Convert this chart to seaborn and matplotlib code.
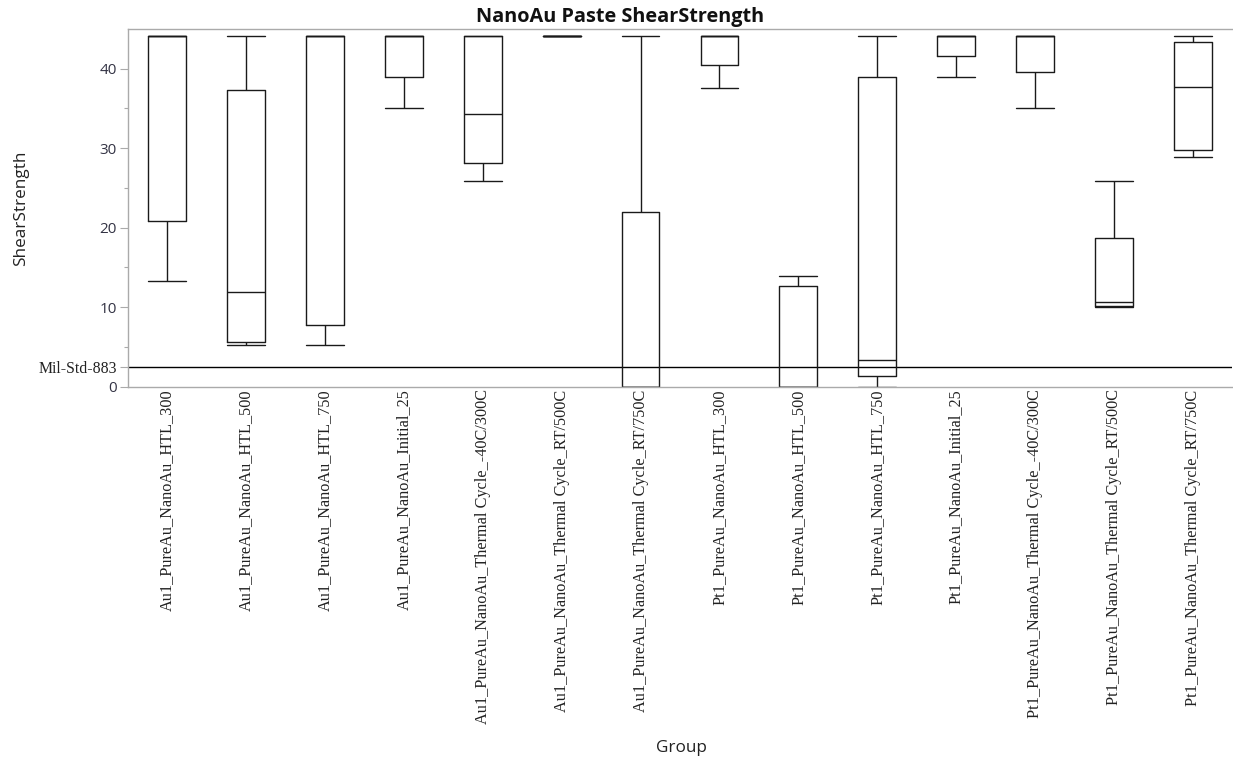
import matplotlib
matplotlib.use("Agg")
import matplotlib.pyplot as plt
import seaborn as sns
import pandas as pd

groups = [
    "Au1_PureAu_NanoAu_HTL_300",
    "Au1_PureAu_NanoAu_HTL_500",
    "Au1_PureAu_NanoAu_HTL_750",
    "Au1_PureAu_NanoAu_Initial_25",
    "Au1_PureAu_NanoAu_Thermal Cycle_-40C/300C",
    "Au1_PureAu_NanoAu_Thermal Cycle_RT/500C",
    "Au1_PureAu_NanoAu_Thermal Cycle_RT/750C",
    "Pt1_PureAu_NanoAu_HTL_300",
    "Pt1_PureAu_NanoAu_HTL_500",
    "Pt1_PureAu_NanoAu_HTL_750",
    "Pt1_PureAu_NanoAu_Initial_25",
    "Pt1_PureAu_NanoAu_Thermal Cycle_-40C/300C",
    "Pt1_PureAu_NanoAu_Thermal Cycle_RT/500C",
    "Pt1_PureAu_NanoAu_Thermal Cycle_RT/750C",
]

# Shear strength readings per group (min, lower quartile, median, upper quartile, max)
au1_htl_300 = [13.3, 20.9, 44.1, 44.1, 44.1]
au1_htl_500 = [5.3, 5.6, 11.9, 37.3, 44.1]
au1_htl_750 = [5.3, 7.8, 44.1, 44.1, 44.1]
au1_initial_25 = [35.1, 39.0, 44.1, 44.1, 44.1]
au1_tc_m40_300 = [25.9, 28.1, 34.3, 44.1, 44.1]
au1_tc_rt_500 = [44.1, 44.1, 44.1, 44.1, 44.1]
au1_tc_rt_750 = [0.0, 0.0, 0.0, 22.0, 44.1]
pt1_htl_300 = [37.6, 40.5, 44.1, 44.1, 44.1]
pt1_htl_500 = [0.0, 0.0, 0.0, 12.7, 13.9]
pt1_htl_750 = [0.0, 1.4, 3.4, 39.0, 44.1]
pt1_initial_25 = [39.0, 41.6, 44.1, 44.1, 44.1]
pt1_tc_m40_300 = [35.1, 39.6, 44.1, 44.1, 44.1]
pt1_tc_rt_500 = [10.0, 10.15, 10.7, 18.7, 25.9]
pt1_tc_rt_750 = [28.85, 29.8, 37.65, 43.4, 44.1]

mil_std_883 = 2.5

values = [au1_htl_300, au1_htl_500, au1_htl_750, au1_initial_25, au1_tc_m40_300,
          au1_tc_rt_500, au1_tc_rt_750, pt1_htl_300, pt1_htl_500, pt1_htl_750,
          pt1_initial_25, pt1_tc_m40_300, pt1_tc_rt_500, pt1_tc_rt_750]

rows = []
for g, vals in zip(groups, values):
    for v in vals:
        rows.append({"Group": g, "ShearStrength": v})
df = pd.DataFrame(rows)

sns.set_theme(style="white")
plt.rcParams["font.family"] = ["Open Sans", "DejaVu Sans"]

fig = plt.figure(figsize=(12.33, 7.59), dpi=100)
ax = fig.add_axes([0.1038, 0.4906, 0.8954, 0.9618 - 0.4906])

line_c = "#1a1a1a"
sns.boxplot(data=df, x="Group", y="ShearStrength", order=groups, ax=ax,
            fill=False, color=line_c, linecolor=line_c, linewidth=1.0,
            width=0.48, whis=1.5, showfliers=False, capwidths=0.48)

ax.axhline(mil_std_883, color="black", lw=1.0, zorder=0)

ax.set_xlim(-0.5, len(groups) - 0.5)
ax.set_ylim(0, 45)

spine_c = "#aaaaaa"
for s in ["left", "bottom", "top"]:
    ax.spines[s].set_visible(True)
    ax.spines[s].set_color(spine_c)
    ax.spines[s].set_linewidth(1.0)
ax.spines["right"].set_visible(False)

ax.set_yticks([0, mil_std_883, 10, 20, 30, 40])
ax.set_yticklabels(["0", "Mil-Std-883", "10", "20", "30", "40"])
ax.set_yticks([5, 15, 25, 35], minor=True)
ax.tick_params(axis="y", which="major", left=True, length=6, width=0.8,
               color=spine_c, labelsize=11, labelcolor="#333344", pad=2)
ax.tick_params(axis="y", which="minor", left=True, length=3, width=0.8,
               color=spine_c)
for lab in ax.get_yticklabels():
    if lab.get_text() == "Mil-Std-883":
        lab.set_fontfamily(["Liberation Serif", "DejaVu Serif"])
        lab.set_fontsize(11.4)
        lab.set_color("#222222")

ax.set_xticks(range(len(groups)))
ax.set_xticklabels(groups, rotation=90, fontfamily=["Liberation Serif", "DejaVu Serif"],
                   fontsize=11.7, color="#222222", va="top", ha="center")
ax.tick_params(axis="x", bottom=False, length=0, pad=2)

ax.set_xlabel("")
ax.set_ylabel("ShearStrength", fontsize=12.3, color="#222222")
ax.yaxis.set_label_coords(-0.09, 0.5)
fig.text(0.5523, 1 - 748 / 759, "Group", ha="center", va="center",
         fontsize=12.3, color="#222222")

fig.text(0.503, 0.978, "NanoAu Paste ShearStrength", ha="center", va="center",
         fontsize=14.3, fontweight="bold", color="#111111")

fig.savefig("out.png", dpi=100)
